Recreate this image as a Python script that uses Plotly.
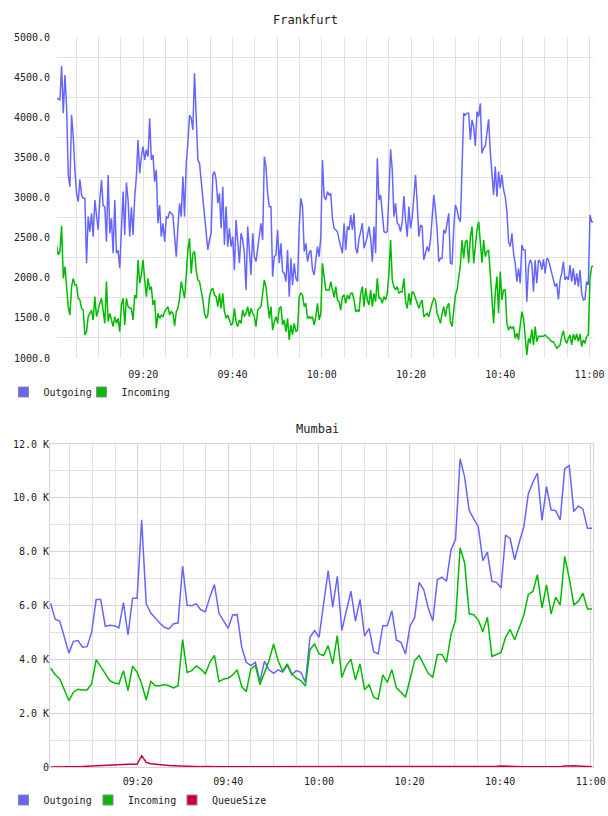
import pandas as pd
import plotly.graph_objects as go

DAY = "2024-01-01 "

# ---------------- Frankfurt (approx. every ~22 s) ----------------
fra_start, fra_end = "09:00:35", "11:00:50"
fra_outgoing = [
    4236, 4224, 4216, 4639, 4049, 4527, 4132, 3281, 3135, 4028, 3759, 3343, 3052, 2949, 3227, 3032,
    2990, 2990, 2180, 2762, 2575, 2803, 2512, 2969, 2762, 2596, 2969, 3219, 2899, 2886, 2450, 3281,
    2554, 2741, 2305, 2969, 2305, 2346, 2118, 2720, 3073, 2533, 3185, 2969, 2512, 2878, 2533, 3011,
    3260, 3717, 3302, 3509, 3634, 3468, 3592, 3509, 3987, 3468, 3530, 3198, 3343, 2679, 2907, 2512,
    2679, 2450, 2762, 2741, 2824, 2803, 2782, 2512, 2263, 2637, 2928, 2762, 3260, 2762, 3426, 3676,
    4028, 3987, 3842, 4548, 4091, 3468, 3426, 3219, 2928, 2803, 2554, 2346, 2471, 2554, 3281, 3322,
    3219, 2928, 3052, 2616, 3135, 2408, 2886, 2388, 2616, 2388, 2512, 2097, 2720, 2388, 2180, 2554,
    2471, 2305, 1848, 2637, 2388, 2035, 2554, 2263, 2201, 2346, 2471, 2679, 2471, 3509, 3385, 3052,
    2886, 2886, 2014, 2263, 2284, 2596, 2180, 2429, 2076, 2055, 1952, 2346, 1765, 2242, 1910, 2180,
    1993, 1952, 2637, 2990, 2886, 2326, 2429, 2201, 2305, 2346, 2097, 2035, 2222, 2388, 2263, 2512,
    3468, 3011, 2969,
    3073, 3032, 3052, 2741, 2616, 2596, 2575, 2471, 2367, 2305, 2679, 2346, 2637, 2596, 2782, 2596,
    2803, 2367, 2305, 2492, 2575, 2679, 2367, 2450, 2512, 2637, 2492, 2201, 2637, 2305, 3489, 2969,
    3032, 2803, 2575, 2562, 2575, 3052, 3601, 3343, 2762, 2928, 2679, 2658, 2575, 2699, 3019, 2720,
    2512, 2886, 2616, 2741, 3011, 3281, 2928, 2512, 2658, 2637, 2222, 2305, 2388, 2326, 2471, 2741,
    3032, 2845, 2596, 2201, 2242, 2242, 2596, 2554, 2679, 2803, 2180, 2172, 2616, 2907, 2845, 2741,
    2699, 3468, 4049, 4028, 4049, 4049, 3717, 3966, 3883, 3642, 4070, 4008, 4174, 3551, 3613, 3642,
    3800, 3975, 3572, 3343, 3032, 3385, 3011, 3322, 3115, 3281, 3094, 3011, 2824, 2450, 2388, 2554,
    2305, 2180, 1952, 2118, 1931, 2408, 2346, 2346, 1702, 2138, 2222, 2180, 1827, 2222, 1931, 2222,
    2201, 2097, 2230, 2055, 2242, 2222, 2138, 2055, 1972, 1889, 1931, 1731, 1972, 2055, 2201, 1972,
    2014, 1972, 2159, 1952, 2118, 1910, 2055, 1889, 2097, 1806, 1723, 1731, 1952, 1910, 2782, 2699,
    2699,
]
fra_incoming = [
    2396, 2284, 2326, 2645, 1993, 2138, 1889, 1640, 1536, 1889, 1993, 1910, 1910, 1744, 1723, 1619,
    1598, 1287, 1328, 1515, 1557, 1598, 1474, 1765, 1515, 1619, 1682, 1744, 1557, 1432, 1952, 1453,
    1557, 1474, 1391, 1515, 1432, 1494, 1328, 1661, 1744, 1412, 1744, 1640, 1619, 1619, 1474, 1785,
    1744, 2222, 1931, 2035, 2222, 1972, 1765, 1993, 1848, 1889, 1661, 1723, 1370, 1557, 1494, 1536,
    1515, 1578, 1619, 1640, 1536, 1578, 1557, 1399, 1578, 1619, 1744, 1952, 1848, 1744, 2035, 2346,
    2492, 2055, 2305, 2326, 2097, 1972, 1952, 1848, 1723, 1557, 1494, 1536, 1765, 1848, 1869, 1785,
    1765, 1640, 1806, 1619, 1806, 1578, 1494, 1536, 1474, 1412, 1432, 1619, 1453, 1391, 1474, 1432,
    1598, 1515, 1557, 1640, 1515, 1619, 1557, 1515, 1391, 1598, 1619, 1640, 1806, 1972, 1889, 1723,
    1494, 1640, 1349, 1453, 1515, 1432, 1619, 1640, 1412, 1474, 1328, 1494, 1225, 1412, 1287, 1432,
    1328, 1349, 1765, 1806, 1785, 1640, 1682, 1494, 1515, 1494, 1515, 1412, 1515, 1682, 1474, 1557,
    2180, 2014, 1848,
    1848, 1848, 1952, 1827, 1756, 1889, 1723, 1702, 1598, 1765, 1785, 1682, 1785, 1731, 1806, 1806,
    1723, 1578, 1598, 1578, 1806, 1889, 1640, 1869, 1723, 1661, 1848, 1640, 1806, 1702, 1993, 1744,
    1744, 1682, 1765, 1723, 1806, 2055, 2471, 1972, 1889, 1848, 1889, 1806, 1827, 1827, 1993, 1702,
    1619, 1806, 1661, 1827, 1806, 1744, 1682, 1619, 1682, 1723, 1515, 1536, 1557, 1515, 1619, 1682,
    1744, 1723, 1557, 1494, 1432, 1557, 1640, 1515, 1640, 1682, 1453, 1391, 1557, 1785, 1848, 2014,
    2159, 2471, 2242, 2450, 2471, 2180, 2512, 2637, 2180, 2388, 2596, 2699, 2471, 2188, 2471, 2263,
    2326, 2346, 2055, 1723, 1432, 1806, 2014, 1557, 2076, 1723, 1848, 1848, 1432, 1349, 1391, 1370,
    1391, 1245, 1308, 1225, 1432, 1578, 1494, 1245, 1038, 1245, 1183, 1358, 1162, 1391, 1204, 1270,
    1270, 1270, 1270, 1287, 1270, 1245, 1225, 1204, 1204, 1162, 1121, 1142, 1162, 1270, 1341, 1225,
    1183, 1245, 1287, 1162, 1299, 1225, 1299, 1204, 1299, 1142, 1225, 1183, 1270, 1287, 1986, 2138,
    2147,
]

# ---------------- Mumbai (one value per minute, in thousands) ----------------
mum_start, mum_end = "09:00:47", "11:00:17"
mum_outgoing = [
    6.08, 5.48, 5.42, 4.82, 4.23, 4.67, 4.70, 4.45, 4.47, 5.00,
    6.22, 6.22, 5.23, 5.27, 5.25, 5.17, 6.11, 4.91, 6.27, 6.27,
    9.18, 6.06, 5.72, 5.54, 5.34, 5.19, 5.13, 5.32, 5.35, 7.46,
    6.01, 5.99, 6.06, 5.84, 5.77, 6.32, 6.78, 5.71, 5.44, 5.15,
    5.65, 5.66, 4.45, 3.89, 3.77, 3.89, 3.18, 3.93, 3.61, 3.48,
    3.61, 3.53, 3.78, 3.43, 3.58, 3.52, 3.14, 4.82, 5.07, 4.82,
    6.06, 7.30, 5.94, 7.08, 5.07, 5.81, 6.53, 5.42, 6.23, 4.87,
    5.15, 4.28, 4.20, 5.25, 5.25, 5.81, 4.72, 4.63, 4.20, 5.25,
    5.54, 6.86, 6.59, 5.91, 5.42, 6.96, 7.05, 6.90, 8.07, 8.46,
    11.45, 10.77, 9.53, 9.22, 8.93, 7.67, 7.98, 6.90, 6.86, 6.65,
    8.62, 8.48, 7.70, 8.35, 8.91, 10.15, 10.58, 10.92, 9.16, 10.42,
    9.55, 9.53, 9.18, 11.08, 11.20, 9.49, 9.70, 9.58, 8.87, 8.87,
]
mum_incoming = [
    3.67, 3.43, 3.27, 2.87, 2.47, 2.78, 2.89, 2.86, 2.86, 3.09,
    3.99, 3.73, 3.48, 3.21, 3.12, 3.09, 3.58, 2.84, 3.75, 3.52,
    3.09, 2.49, 3.18, 3.02, 3.02, 3.06, 3.02, 2.94, 3.02, 4.73,
    3.51, 3.58, 3.75, 3.64, 3.46, 3.89, 4.15, 3.17, 3.27, 3.30,
    3.42, 3.61, 2.99, 2.80, 3.64, 3.77, 3.06, 3.48, 3.95, 4.57,
    3.95, 3.56, 3.83, 3.46, 3.30, 3.21, 3.01, 4.36, 4.57, 4.20,
    4.14, 4.51, 3.83, 4.88, 3.33, 3.77, 4.01, 3.23, 3.83, 2.87,
    3.06, 2.59, 2.52, 3.42, 3.14, 3.62, 2.94, 2.78, 2.59, 3.27,
    3.95, 4.14, 3.83, 3.48, 3.33, 4.18, 4.18, 3.89, 4.92, 5.46,
    8.14, 7.58, 5.69, 5.66, 5.46, 5.03, 5.56, 4.11, 4.18, 4.26,
    4.82, 5.11, 4.73, 5.17, 5.63, 6.41, 6.52, 7.14, 5.90, 6.77,
    5.69, 6.31, 6.01, 7.82, 7.01, 6.02, 6.15, 6.46, 5.87, 5.87,
]
mum_queue = [
    0.0, 0.0, 0.0, 0.0, 0.0, 0.005, 0.01, 0.02, 0.03, 0.04,
    0.05, 0.06, 0.07, 0.08, 0.09, 0.09, 0.10, 0.10, 0.10, 0.10,
    0.42, 0.17, 0.12, 0.10, 0.09, 0.08, 0.06, 0.05, 0.04, 0.03,
    0.02, 0.01, 0.01, 0.01, 0.02, 0.01, 0.01, 0.01, 0.01, 0.01,
    0.01, 0.005, 0.005, 0.005, 0.01, 0.005, 0.005, 0.005, 0.005, 0.005,
    0.005, 0.005, 0.01, 0.005, 0.005, 0.005, 0.005, 0.005, 0.005, 0.005,
    0.005, 0.005, 0.005, 0.005, 0.005, 0.005, 0.005, 0.005, 0.005, 0.005,
    0.005, 0.005, 0.01, 0.02, 0.02, 0.01, 0.005, 0.005, 0.005, 0.005,
    0.005, 0.005, 0.005, 0.005, 0.005, 0.005, 0.005, 0.005, 0.005, 0.005,
    0.005, 0.005, 0.005, 0.005, 0.005, 0.005, 0.01, 0.02, 0.03, 0.04,
    0.03, 0.02, 0.005, 0.005, 0.005, 0.005, 0.005, 0.005, 0.005, 0.005,
    0.005, 0.005, 0.01, 0.04, 0.05, 0.05, 0.04, 0.02, 0.01, 0.005,
]
mum_ticks = [0, 2, 4, 6, 8, 10, 12]
mum_ticktext = ["0", "2.0 K", "4.0 K", "6.0 K", "8.0 K", "10.0 K", "12.0 K"]

BLUE = "#6666ff"
GREEN = "#00bb00"
RED = "#cc0033"
GRAY = "#e2e2e2"
PINK = "#e2cce2"
FONT = "DejaVu Sans Mono"
H = 816.0
W = 608.0


def times(start, end, n):
    return pd.date_range(DAY + start, DAY + end, periods=n)


fig = go.Figure()

fig.add_trace(go.Scatter(x=times(fra_start, fra_end, len(fra_outgoing)), y=fra_outgoing, mode="lines",
                         line=dict(color=BLUE, width=1.5), showlegend=False, hoverinfo="skip",
                         xaxis="x", yaxis="y"))
fig.add_trace(go.Scatter(x=times(fra_start, fra_end, len(fra_incoming)), y=fra_incoming, mode="lines",
                         line=dict(color=GREEN, width=1.5), showlegend=False, hoverinfo="skip",
                         xaxis="x", yaxis="y"))

fig.add_trace(go.Scatter(x=times(mum_start, mum_end, len(mum_outgoing)), y=mum_outgoing, mode="lines",
                         line=dict(color=BLUE, width=1.5), showlegend=False, hoverinfo="skip",
                         xaxis="x2", yaxis="y2"))
fig.add_trace(go.Scatter(x=times(mum_start, mum_end, len(mum_incoming)), y=mum_incoming, mode="lines",
                         line=dict(color=GREEN, width=1.5), showlegend=False, hoverinfo="skip",
                         xaxis="x2", yaxis="y2"))
fig.add_trace(go.Scatter(x=times(mum_start, mum_end, len(mum_queue)), y=mum_queue, mode="lines",
                         line=dict(color=RED, width=1.5), showlegend=False, hoverinfo="skip",
                         xaxis="x2", yaxis="y2"))

# legend entries (square swatches), one legend box per entry
legend_items = [
    ("Outgoing", BLUE, "legend", "x", "y", 3.5, 392),
    ("Incoming", GREEN, "legend2", "x", "y", 81.5, 392),
    ("Outgoing", BLUE, "legend3", "x2", "y2", 3.5, 800),
    ("Incoming", GREEN, "legend4", "x2", "y2", 88, 800),
    ("QueueSize", RED, "legend5", "x2", "y2", 172, 800),
]
legend_layouts = {}
for name, color, leg, xa, ya, lx, ly in legend_items:
    fig.add_trace(go.Scatter(x=[None], y=[None], mode="markers", name=name, legend=leg,
                             marker=dict(symbol="square", size=10, color=color,
                                         line=dict(color="#888888", width=1)),
                             xaxis=xa, yaxis=ya))
    legend_layouts[leg] = dict(orientation="h", x=lx / W, xanchor="left", y=1 - ly / H, yanchor="middle",
                               font=dict(family=FONT, size=10, color="#222222"),
                               bgcolor="rgba(0,0,0,0)", itemclick=False, itemdoubleclick=False)

fig.update_layout(
    width=608, height=816,
    margin=dict(l=0, r=0, t=0, b=0, autoexpand=False),
    paper_bgcolor="white", plot_bgcolor="white",
    font=dict(family=FONT, size=10, color="#222222"),
    showlegend=True,
    xaxis=dict(
        domain=[57 / W, 593.3 / W], anchor="y", type="date",
        range=[DAY + "09:00:40", DAY + "11:00:50"],
        tickformat="%H:%M", tick0=DAY + "09:00", dtick=20 * 60 * 1000,
        showgrid=True, gridcolor=GRAY, gridwidth=1,
        minor=dict(tick0=DAY + "09:00", dtick=5 * 60 * 1000, showgrid=True, gridcolor=GRAY, gridwidth=1),
        ticks="", showline=False, zeroline=False, ticklabelstandoff=9,
        tickfont=dict(family=FONT, size=10, color="#222222"),
    ),
    yaxis=dict(
        domain=[1 - 358 / H, 1 - 37 / H], anchor="x",
        range=[1000, 5000], tick0=1000, dtick=500, tickformat=".1f",
        showgrid=False,
        minor=dict(tick0=1000, dtick=250, showgrid=True, gridcolor=GRAY, gridwidth=1),
        ticks="", showline=False, zeroline=False, ticklabelstandoff=6,
        tickfont=dict(family=FONT, size=10, color="#222222"),
    ),
    xaxis2=dict(
        domain=[50 / W, 593 / W], anchor="y2", type="date",
        range=[DAY + "09:00:38", DAY + "11:00:30"],
        tickformat="%H:%M", tick0=DAY + "09:00", dtick=20 * 60 * 1000,
        showgrid=True, gridcolor=PINK, gridwidth=1,
        minor=dict(tick0=DAY + "09:00", dtick=5 * 60 * 1000, showgrid=True, gridcolor=GRAY, gridwidth=1),
        ticks="", showline=True, mirror=True, linecolor=PINK, linewidth=1,
        zeroline=False, ticklabelstandoff=5, layer="below traces",
        tickfont=dict(family=FONT, size=10, color="#222222"),
    ),
    yaxis2=dict(
        domain=[1 - 767 / H, 1 - 444 / H], anchor="x2",
        range=[0, 12], tickmode="array", tickvals=mum_ticks, ticktext=mum_ticktext,
        showgrid=True, gridcolor=PINK, gridwidth=1,
        minor=dict(tick0=0, dtick=1, showgrid=True, gridcolor=GRAY, gridwidth=1),
        ticks="", showline=True, mirror=True, linecolor=PINK, linewidth=1,
        zeroline=False, ticklabelstandoff=-2, layer="below traces",
        tickfont=dict(family=FONT, size=10, color="#222222"),
    ),
    annotations=[
        dict(text="Frankfurt", x=305 / W, y=1 - 20 / H, xref="paper", yref="paper",
             showarrow=False, xanchor="center", yanchor="middle",
             font=dict(family=FONT, size=12, color="#222222")),
        dict(text="Mumbai", x=317 / W, y=1 - 429 / H, xref="paper", yref="paper",
             showarrow=False, xanchor="center", yanchor="middle",
             font=dict(family=FONT, size=12, color="#222222")),
    ],
    **legend_layouts,
)

fig.write_html("out.html")
